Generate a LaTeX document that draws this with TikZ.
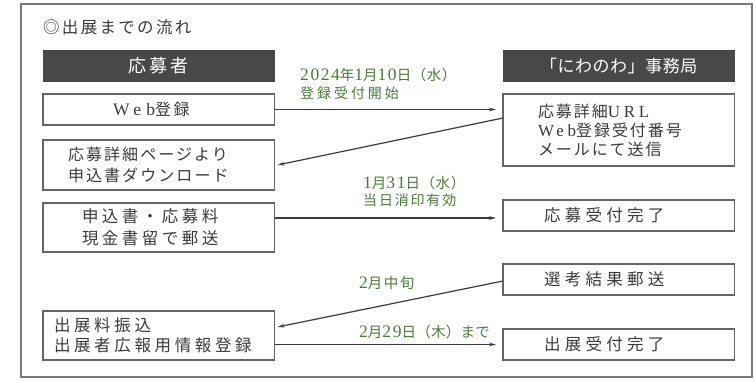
\documentclass[tikz,border=0pt]{standalone}
\usepackage{fontspec}
\setmainfont{Noto Sans CJK JP}
\newfontfamily\lat{Liberation Serif}
\usetikzlibrary{arrows.meta}
\definecolor{hdr}{HTML}{484848}
\definecolor{frm}{HTML}{7A7A7A}
\definecolor{bx}{HTML}{666666}
\definecolor{txt}{HTML}{3A3A3A}
\definecolor{grn}{HTML}{4A7A38}
\definecolor{arr}{HTML}{3A3A3A}
\newcommand\fsz[2]{\fontsize{#1}{#2}\selectfont}
\newcommand\lsp[1]{\addfontfeature{LetterSpace=#1}}
\newcommand\dg[1]{{\lat\fontsize{17.5}{17.5}\selectfont\addfontfeature{LetterSpace=9}#1}}
\newcommand\lw[3]{{\lat\fontsize{#1}{#1}\selectfont\addfontfeature{LetterSpace=#2}#3}}
\tikzset{
  frame/.style={draw=frm, line width=1.4pt, anchor=north west, inner sep=0, outer sep=0},
  hdrbox/.style={fill=hdr, text=white, anchor=north west, inner sep=0, outer sep=0,
    minimum width=231.5, minimum height=32},
  box/.style={draw=bx, line width=1.1pt, text=txt, anchor=north west, inner ysep=0,
    outer sep=0, minimum width=231.5, align=left},
  glab/.style={text=grn, anchor=west, inner sep=0},
  flow/.style={draw=arr, line width=1.2pt, -{Stealth[length=7pt,width=3.6pt]}}
}
\begin{document}
\begin{tikzpicture}[x=1pt,y=-1pt]
\useasboundingbox (0,0) rectangle (756,381);
\node[frame, minimum width=731, minimum height=373] (fr) at (21,4) {};
\node[anchor=west, inner sep=0, text=txt, font={\fsz{16.5}{18}\lsp{14}}] (title) at (43,27)
  {◎出展までの流れ};
% headers
\node[hdrbox, font={\fsz{18}{20}\lsp{17}}] (hl) at (43,50) {応募者};
\node[hdrbox, font={\fsz{17}{20}\lsp{3}}] (hr) at (503,50) {「にわのわ」事務局};
% left column
\node[box, minimum height=31, inner xsep=70, text width=91.5, font={\fsz{16}{18}\lsp{15}}] (web) at (43,94)
  {\lw{17.5}{30}{Web}登録};
\node[box, minimum height=50, inner xsep=25, text width=181.5, font={\fsz{16}{21.5}\lsp{13}}] (dl) at (43,140)
  {応募詳細ページより\\申込書ダウンロード};
\node[box, minimum height=49, inner xsep=39, text width=153.5, font={\fsz{16.5}{22}\lsp{21}}] (mail) at (43,203)
  {申込書・応募料\\現金書留で郵送};
\node[box, minimum height=49, inner xsep=11, text width=209.5, font={\fsz{16.5}{20}\lsp{22}}] (pay) at (43,311)
  {出展料振込\\出展者広報用情報登録};
% right column
\node[box, minimum height=72, inner xsep=35, text width=161.5, font={\fsz{16}{19}\lsp{12}}] (url) at (503,94)
  {応募詳細\lw{17}{22}{URL}\\\lw{17}{22}{Web}登録受付番号\\メールにて送信};
\node[box, minimum height=31, inner xsep=41, text width=149.5, font={\fsz{16.5}{18}\lsp{26}}] (uk) at (503,200)
  {応募受付完了};
\node[box, minimum height=31, inner xsep=41, text width=149.5, font={\fsz{16.5}{18}\lsp{26}}] (sk) at (503,264)
  {選考結果郵送};
\node[box, minimum height=31, inner xsep=41, text width=149.5, font={\fsz{16.5}{18}\lsp{26}}] (fin) at (503,329)
  {出展受付完了};
% labels
\node[glab, font={\fsz{14.5}{16}\lsp{4}}] (l1) at (300,75) {\dg{2024}年\dg{1}月\dg{10}日（水）};
\node[glab, font={\fsz{14}{16}\lsp{21}}] (l1b) at (300,93) {登録受付開始};
\node[glab, font={\fsz{14.5}{16}\lsp{4}}] (l2) at (363,183) {\dg{1}月\dg{31}日（水）};
\node[glab, font={\fsz{14}{16}\lsp{13}}] (l2b) at (363,200) {当日消印有効};
\node[glab, font={\fsz{14.5}{16}\lsp{10}}] (l3) at (359,283) {\dg{2}月中旬};
\node[glab, font={\fsz{14.5}{16}\lsp{2}}] (l4) at (359,332) {\dg{2}月\dg{29}日（木）まで};
% arrows
\draw[flow] (web.east) -- ([xshift=-7]web.east -| url.west);
\draw[flow] ([yshift=12]url.west) -- ([xshift=3]dl.east);
\draw[flow] ([yshift=-2.5]uk.west -| mail.east) -- ([yshift=-2.5,xshift=-7]uk.west);
\draw[flow] ([yshift=-1.5]sk.west) -- ([xshift=3,yshift=8.5]pay.east);
\draw[flow] (fin.west -| pay.east) -- ([xshift=-7]fin.west);
\end{tikzpicture}
\end{document}
